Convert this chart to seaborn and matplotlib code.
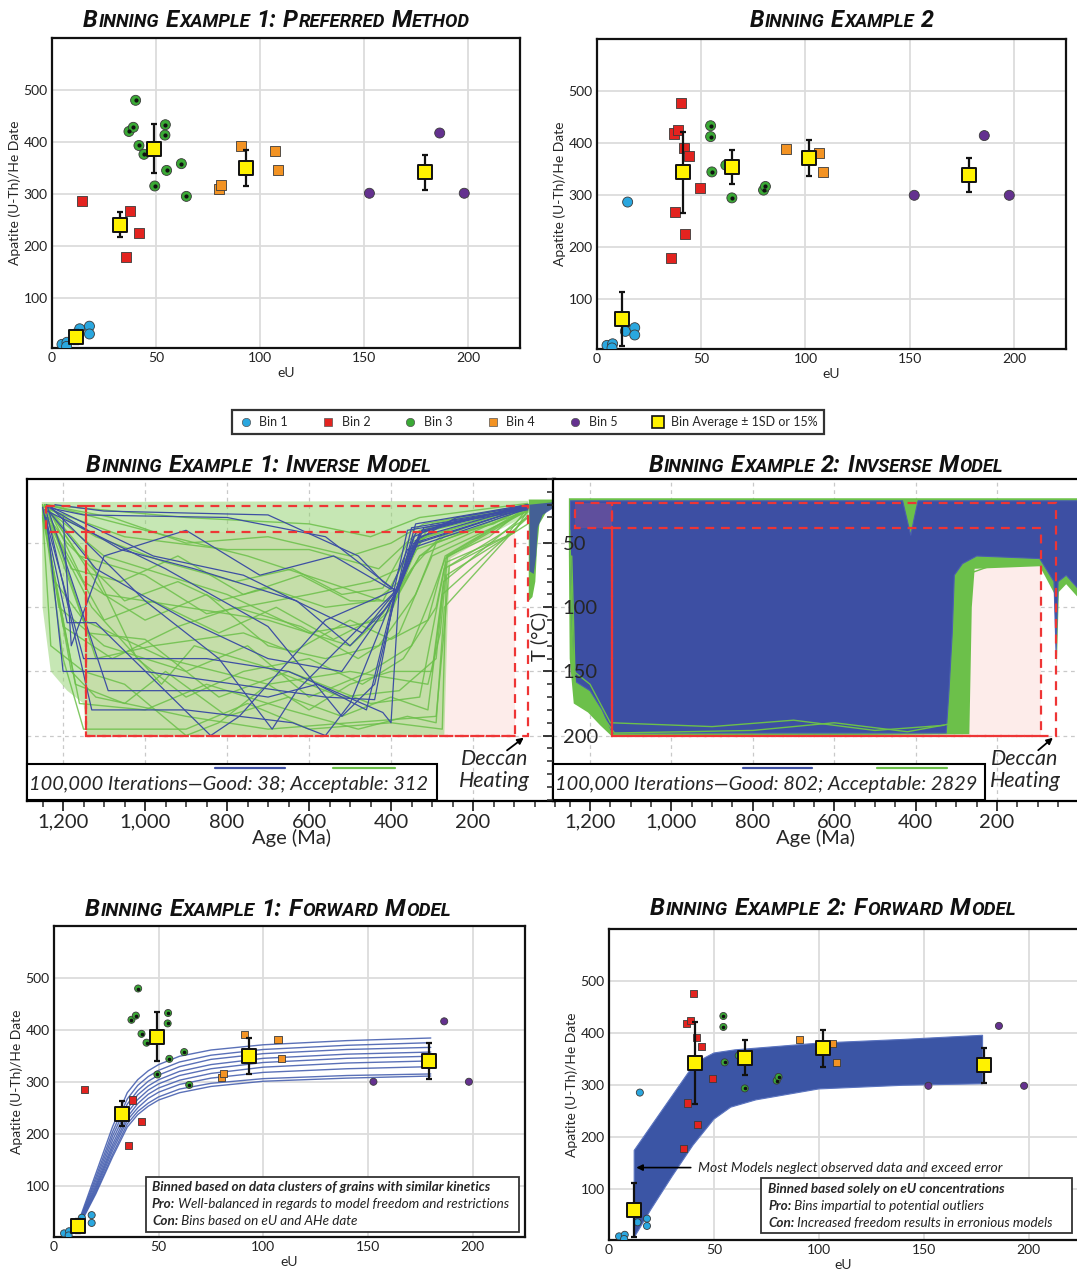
import matplotlib
matplotlib.use("Agg")
import matplotlib.pyplot as plt
import matplotlib.ticker as mticker
from matplotlib.patches import Rectangle, Polygon
from matplotlib.lines import Line2D
import numpy as np
import pandas as pd
import seaborn as sns

sns.set_theme(style="white")
plt.rcParams["font.family"] = ["Lato", "DejaVu Sans"]

W, H = 1077, 1276

# ---------------- data: binning example 1 (eU, AHe date) ----------------
ex1_bin1_eu = [4.8, 7.2, 7.0, 13.3, 18.0, 18.0]
ex1_bin1_age = [10, 14, 6, 40, 45, 30]
ex1_bin2_eu = [14.6, 37.5, 42.0, 35.4]
ex1_bin2_age = [287, 266, 225, 178]
ex1_bin3_eu = [40.2, 37.0, 39.1, 54.5, 54.3, 41.8, 44.2, 62.2, 55.1, 49.4, 64.6]
ex1_bin3_age = [480, 420, 428, 433, 413, 393, 376, 358, 345, 315, 295]
ex1_bin4_eu = [90.9, 107.0, 108.8, 80.1, 81.1]
ex1_bin4_age = [392, 383, 346, 310, 316]
ex1_bin5_eu = [152.6, 186.4, 198.2]
ex1_bin5_age = [301, 417, 301]
ex1_avg_eu = [11.5, 32.5, 49.2, 93.1, 179.2]
ex1_avg_age = [24, 240, 387, 350, 341]
ex1_avg_err = [14, 24, 47, 35, 34]

# ---------------- data: binning example 2 ----------------
ex2_bin1_eu = [4.8, 7.5, 7.2, 14.7, 13.6, 18.1, 18.1]
ex2_bin1_age = [10, 13, 5, 286, 37, 44, 30]
ex2_bin2_eu = [40.3, 37.1, 39.0, 41.9, 44.2, 49.5, 37.5, 42.0, 35.5]
ex2_bin2_age = [477, 418, 425, 391, 375, 313, 266, 225, 178]
ex2_bin3_eu = [54.5, 54.5, 55.1, 61.8, 64.7, 79.9, 80.8]
ex2_bin3_age = [433, 412, 344, 357, 294, 309, 316]
ex2_bin4_eu = [90.6, 106.7, 108.6]
ex2_bin4_age = [388, 381, 344]
ex2_bin5_eu = [152.2, 185.8, 197.8]
ex2_bin5_age = [299, 414, 299]
ex2_avg_eu = [11.8, 41.1, 64.6, 101.9, 178.6]
ex2_avg_age = [61, 343, 353, 371, 338]
ex2_avg_err = [52, 78, 33, 35, 33]

bin_names = ["Bin 1", "Bin 2", "Bin 3", "Bin 4", "Bin 5"]
bin_colors = ["#2aa7df", "#e3231f", "#3aa935", "#f39323", "#64318f"]
bin_markers = ["o", "s", "o", "s", "o"]

# ---------------- inverse model ex 1: time-temperature paths (age Ma, T degC) ----------------
ex1_good_paths = [
    [(1240, 22), (1150, 28), (800, 30), (560, 45), (385, 88), (345, 45), (250, 32), (66, 22)],
    [(1235, 25), (1120, 70), (900, 110), (700, 140), (520, 150), (390, 90), (340, 48), (240, 30), (66, 21)],
    [(1240, 30), (1200, 150), (1000, 150), (780, 160), (560, 170), (440, 172), (392, 92), (335, 50), (66, 22)],
    [(1230, 22), (1000, 95), (820, 140), (690, 195), (630, 165), (385, 86), (330, 42), (66, 20)],
    [(1245, 24), (950, 70), (700, 115), (520, 185), (440, 160), (392, 95), (350, 38), (66, 23)],
    [(1250, 22), (1190, 112), (1120, 112), (840, 200), (770, 185), (560, 110), (388, 86), (325, 40), (66, 21)],
    [(1220, 20), (1100, 25), (700, 28), (480, 60), (420, 80), (385, 88), (340, 35), (66, 20)],
    [(1240, 26), (1130, 180), (900, 180), (640, 190), (560, 200), (500, 175), (390, 88), (345, 50), (66, 22)],
    [(1235, 21), (980, 60), (760, 75), (600, 100), (470, 120), (395, 90), (360, 40), (66, 24)],
    [(1245, 28), (1150, 140), (850, 140), (650, 150), (420, 182), (400, 190), (380, 85), (330, 45), (66, 21)],
    [(1230, 23), (1060, 55), (880, 70), (630, 95), (500, 130), (410, 100), (385, 88), (320, 38), (66, 22)],
    [(1240, 20), (1090, 165), (800, 165), (700, 170), (580, 160), (460, 180), (395, 95), (340, 42), (66, 20)],
    [(1200, 30), (1180, 130), (1100, 60), (900, 40), (720, 75), (540, 60), (400, 86), (360, 55), (66, 23)],
]
ex1_ok_paths = [
    [(1250, 20), (1220, 80), (1150, 110), (950, 140), (700, 160), (500, 150), (310, 160), (280, 120), (262, 60), (160, 45), (66, 20)],
    [(1245, 22), (1100, 60), (800, 90), (600, 120), (420, 110), (330, 60), (270, 45), (150, 35), (66, 21)],
    [(1250, 25), (1180, 150), (1120, 170), (900, 185), (700, 195), (500, 190), (290, 185), (268, 110), (258, 68), (120, 45), (66, 22)],
    [(1240, 20), (1000, 40), (750, 60), (560, 80), (420, 95), (360, 60), (300, 40), (66, 22)],
    [(1250, 21), (1140, 120), (1000, 125), (820, 170), (650, 150), (450, 175), (330, 170), (300, 120), (270, 70), (66, 30)],
    [(1235, 24), (1100, 90), (900, 100), (700, 110), (500, 130), (395, 100), (340, 55), (66, 25)],
    [(1250, 20), (1200, 140), (1150, 195), (900, 195), (750, 175), (600, 195), (400, 190), (275, 195), (265, 75), (66, 35)],
    [(1240, 23), (1050, 45), (800, 55), (600, 55), (430, 70), (330, 40), (66, 20)],
    [(1248, 26), (1130, 100), (960, 160), (880, 130), (720, 145), (520, 170), (380, 165), (290, 140), (266, 65), (100, 42), (66, 24)],
    [(1245, 20), (1160, 60), (1000, 75), (850, 105), (600, 90), (450, 80), (380, 70), (300, 35), (66, 20)],
    [(1250, 30), (1160, 175), (1000, 180), (850, 160), (650, 180), (480, 195), (360, 185), (290, 190), (270, 100), (66, 28)],
    [(1240, 22), (1120, 140), (980, 130), (760, 120), (640, 135), (500, 110), (400, 125), (310, 110), (268, 60), (66, 22)],
    [(1250, 24), (1190, 50), (1050, 95), (920, 80), (820, 95), (700, 85), (560, 100), (440, 95), (380, 80), (320, 45), (66, 21)],
    [(1245, 20), (900, 30), (600, 35), (450, 45), (330, 30), (66, 19)],
    [(1250, 22), (1210, 100), (1100, 130), (900, 150), (750, 130), (600, 170), (450, 150), (350, 130), (300, 90), (268, 62), (66, 24)],
    [(1245, 21), (1120, 45), (950, 65), (780, 80), (640, 70), (520, 90), (420, 85), (360, 50), (66, 21)],
    [(1250, 26), (1170, 160), (1050, 175), (950, 150), (800, 185), (650, 170), (520, 185), (400, 170), (310, 180), (275, 90), (66, 30)],
    [(1240, 20), (1150, 80), (1000, 110), (850, 90), (700, 130), (560, 140), (430, 130), (340, 90), (290, 50), (66, 22)],
    [(1250, 23), (1200, 115), (1080, 140), (920, 115), (780, 100), (620, 115), (480, 140), (380, 120), (300, 60), (66, 25)],
    [(1245, 20), (1080, 30), (900, 50), (700, 45), (500, 60), (400, 50), (320, 35), (66, 20)],
    [(1250, 28), (1230, 130), (1150, 150), (1050, 160), (900, 200), (820, 190), (700, 160), (600, 180), (500, 160), (400, 150), (300, 150), (272, 80), (66, 26)],
    [(1240, 22), (1140, 60), (1020, 140), (900, 170), (760, 150), (600, 140), (470, 160), (370, 140), (290, 100), (264, 60), (66, 23)],
    [(1250, 24), (1100, 110), (980, 95), (820, 120), (680, 100), (540, 125), (420, 105), (350, 70), (280, 45), (66, 21)],
    [(1245, 20), (1180, 70), (1060, 80), (920, 60), (760, 90), (620, 75), (500, 95), (390, 95), (330, 60), (66, 22)],
]
ex1_ok_envelope = [(1252, 18), (66, 17), (66, 28), (150, 42), (255, 62), (262, 110), (270, 200),
                   (1142, 200), (1150, 175), (1190, 165), (1230, 150), (1250, 100)]
ex1_heat_ok = [(64, 16), (64, 95), (55, 92), (48, 80), (44, 55), (38, 35), (20, 25), (0, 22), (0, 16)]
ex1_heat_good = [(62, 20), (62, 72), (52, 74), (46, 60), (42, 38), (30, 28), (0, 22), (0, 18)]

# ---------------- inverse model ex 2: envelopes of the dense path clouds ----------------
ex2_good_envelope = [(1248, 17), (432, 17), (412, 44), (403, 30), (394, 17), (2, 17), (2, 85), (30, 75),
                     (50, 80), (55, 135), (60, 80), (95, 62), (250, 60), (285, 66), (305, 75), (310, 120),
                     (318, 165), (325, 198), (1145, 198), (1170, 180), (1200, 165), (1235, 158),
                     (1243, 120), (1248, 60)]
ex2_ok_envelope = [(1252, 15), (2, 15), (2, 92), (30, 82), (48, 88), (53, 145), (58, 90), (95, 68),
                   (255, 70), (262, 100), (265, 150), (268, 199), (1145, 201), (1175, 192), (1205, 182),
                   (1240, 175), (1250, 140), (1252, 60)]
ex2_ok_paths = [
    [(1250, 40), (1240, 150), (1200, 160), (1150, 190), (900, 193), (700, 188), (500, 196), (330, 192)],
    [(1245, 60), (1235, 175), (1180, 180), (1140, 198), (800, 196), (600, 190), (420, 197), (300, 190), (270, 120)],
    [(310, 190), (290, 120), (280, 75), (200, 66), (100, 63)],
]

# ---------------- forward model ex 1: model curves (eU, date) ----------------
fwd1_eu = [12, 20, 28, 35, 40, 45, 50, 60, 75, 100, 140, 180]
fwd1_curves = [
    [35, 125, 215, 280, 305, 322, 334, 350, 362, 372, 380, 385],
    [32, 118, 205, 268, 294, 311, 323, 339, 352, 363, 371, 376],
    [31, 112, 197, 258, 284, 302, 314, 330, 344, 355, 363, 367],
    [30, 106, 189, 249, 276, 293, 305, 321, 334, 346, 354, 358],
    [28, 101, 181, 241, 267, 285, 297, 313, 326, 338, 346, 350],
    [27, 97, 175, 233, 259, 277, 289, 304, 317, 329, 337, 341],
    [26, 93, 169, 227, 251, 269, 281, 296, 308, 319, 326, 330],
    [25, 89, 162, 220, 244, 260, 272, 287, 298, 307, 313, 316],
    [24, 86, 157, 214, 238, 254, 266, 280, 292, 302, 308, 312],
]
# ---------------- forward model ex 2: envelope of the model cloud ----------------
fwd2_upper_eu = [12, 41, 50, 60, 100, 140, 178]
fwd2_upper = [175, 343, 362, 368, 381, 388, 396]
fwd2_lower_eu = [178, 140, 100, 70, 58, 50, 40, 30, 20, 12]
fwd2_lower = [303, 300, 293, 272, 258, 235, 185, 125, 62, 8]

# ---------------- helpers ----------------
fig = plt.figure(figsize=(W / 100, H / 100), dpi=100)
fig.patch.set_facecolor("white")


def axes_px(x0, y0, x1, y1):
    return fig.add_axes([x0 / W, 1 - y1 / H, (x1 - x0) / W, (y1 - y0) / H])


def bins_frame(ex):
    rows = []
    for i in range(5):
        eu = globals()[f"ex{ex}_bin{i + 1}_eu"]
        age = globals()[f"ex{ex}_bin{i + 1}_age"]
        rows += [(e, a, bin_names[i]) for e, a in zip(eu, age)]
    return pd.DataFrame(rows, columns=["eU", "date", "bin"])


def scatter_panel(ax, ex, small=False):
    df = bins_frame(ex)
    s = 26 if small else 52
    sns.scatterplot(data=df, x="eU", y="date", hue="bin", style="bin",
                    palette=dict(zip(bin_names, bin_colors)),
                    markers=dict(zip(bin_names, bin_markers)),
                    s=s, edgecolor="#3a3a3a", linewidth=0.6, ax=ax, legend=False, zorder=3)
    b3 = df[df["bin"] == "Bin 3"]
    ax.scatter(b3["eU"], b3["date"], s=2.5 if small else 4, color="#111111", zorder=3.5)
    a_eu = globals()[f"ex{ex}_avg_eu"]
    a_age = globals()[f"ex{ex}_avg_age"]
    a_err = globals()[f"ex{ex}_avg_err"]
    ax.errorbar(a_eu, a_age, yerr=a_err, fmt="none", ecolor="#111111", elinewidth=1.6,
                capsize=2.2, capthick=1.6, zorder=4)
    sns.scatterplot(x=a_eu, y=a_age, marker="s", color="#fff200", s=100 if small else 115,
                    edgecolor="#111111", linewidth=1.4, ax=ax, zorder=5, legend=False)
    ax.set_ylim(3, 600)
    ax.set_xticks([0, 50, 100, 150, 200])
    ax.set_yticks([100, 200, 300, 400, 500])
    ax.grid(True, color="#dcdcdc", lw=1.3)
    ax.set_axisbelow(True)
    for sp in ax.spines.values():
        sp.set_color("#111111")
        sp.set_linewidth(1.6)
    ax.tick_params(length=0, labelsize=10, pad=3, colors="#222222")
    ax.set_xlabel("eU", fontsize=10, labelpad=2)
    ax.set_ylabel("Apatite (U-Th)/He Date", fontsize=10, labelpad=2)


def paths_frame(paths):
    rows = []
    for k, p in enumerate(paths):
        for j, (a, t) in enumerate(p):
            rows.append((k, j, a, t))
    return pd.DataFrame(rows, columns=["path", "step", "age", "T"])


def inverse_frame(ax, xlim):
    ax.set_xlim(*xlim)
    ax.set_ylim(251, 0)
    ax.set_facecolor("white")
    for a in [1200, 1000, 800, 600, 400, 200]:
        ax.axvline(a, color="#c9c9c9", lw=0.9, ls=(0, (3, 3)), zorder=0.5)
    for t in [50, 100, 150, 200]:
        ax.axhline(t, color="#c9c9c9", lw=0.9, ls=(0, (3, 3)), zorder=0.5)
    ax.xaxis.set_major_locator(mticker.FixedLocator([1200, 1000, 800, 600, 400, 200]))
    ax.xaxis.set_major_formatter(mticker.FuncFormatter(lambda v, p: f"{int(v):,}"))
    ax.xaxis.set_minor_locator(mticker.MultipleLocator(50))
    ax.tick_params(axis="x", which="major", direction="out", length=7, width=1.3,
                   labelsize=14.5, pad=2, bottom=True)
    ax.tick_params(axis="x", which="minor", direction="out", length=4, width=1.1, bottom=True)
    for sp in ax.spines.values():
        sp.set_color("black")
        sp.set_linewidth(1.6)
    ax.set_xlabel("Age (Ma)", fontsize=14.5, labelpad=-1)


def constraint_boxes(ax, a_left, a_mid, a_in, a_out, t_top, t_mid):
    ax.add_patch(Rectangle((a_mid, t_mid), a_in - a_mid, 200 - t_mid, facecolor="#fdecea",
                           edgecolor="none", zorder=0.8))
    kw = dict(fill=False, edgecolor="#ee3535", lw=1.6, ls=(0, (4, 3)), zorder=6)
    ax.add_patch(Rectangle((a_mid, t_top), a_out - a_mid, 200 - t_top, **kw))
    ax.add_patch(Rectangle((a_left, t_top), a_mid - a_left, t_mid - t_top, **kw))
    ax.add_patch(Rectangle((a_mid, t_mid), a_in - a_mid, 200 - t_mid, **kw))


def iteration_box(ax, x1, text, blue_seg, green_seg):
    ax.add_patch(Rectangle((0, 0.003), x1, 0.112, transform=ax.transAxes, facecolor="white",
                           edgecolor="black", lw=1.5, zorder=7, clip_on=False))
    ax.text(0.004, 0.035, text, transform=ax.transAxes, fontsize=14.4, style="italic",
            va="baseline", ha="left", zorder=8)
    ax.plot(blue_seg, [0.102, 0.102], transform=ax.transAxes, color="#3d4fa3", lw=1.6, zorder=8)
    ax.plot(green_seg, [0.102, 0.102], transform=ax.transAxes, color="#6cc04a", lw=1.6, zorder=8)


def deccan(ax, cx, tail, head):
    ax.text(cx, 0.112, "Deccan", transform=ax.transAxes, fontsize=15.5, style="italic",
            ha="center", va="baseline", zorder=8)
    ax.text(cx, 0.045, "Heating", transform=ax.transAxes, fontsize=15.5, style="italic",
            ha="center", va="baseline", zorder=8)
    ax.annotate("", xy=head, xytext=tail, xycoords="axes fraction",
                arrowprops=dict(arrowstyle="-|>", color="black", lw=1.3, mutation_scale=9), zorder=8)


def smallcaps(cx, base, text, width, big=14.0, ratio=0.78):
    r = fig.canvas.get_renderer()
    items = []
    for word in text.split(" "):
        runs = []
        for ch in word:
            isbig = not ch.islower()
            if runs and runs[-1][1] == isbig:
                runs[-1][0] += ch.upper()
            else:
                runs.append([ch.upper(), isbig])
        items.append(runs)

    def layout(size):
        arts, total = [], 0.0
        for wi, runs in enumerate(items):
            if wi:
                total += size * 0.25 * 100 / 72
            for s, isbig in runs:
                t = fig.text(0, 0, s, fontsize=size if isbig else size * ratio, fontweight="bold",
                             fontstyle="italic", va="baseline", ha="left", color="#111111",
                             family=["Roboto", "Lato", "DejaVu Sans"])
                arts.append((t, total))
                total += t.get_window_extent(r).width + 0.6
        return arts, total

    arts, total = layout(big)
    for t, _ in arts:
        t.remove()
    arts, total = layout(big * width / total)
    x0 = cx - total / 2
    for t, off in arts:
        t.set_position(((x0 + off) / W, 1 - base / H))


# ---------------- top scatter panels ----------------
ax1 = axes_px(52, 38, 520, 348)
scatter_panel(ax1, 1)
ax1.set_xlim(0, 225)
ax2 = axes_px(597, 39, 1066, 349)
scatter_panel(ax2, 2)
ax2.set_xlim(0, 225)

handles = [Line2D([], [], marker=m, ls="none", markerfacecolor=c, markeredgecolor="#555555",
                  markeredgewidth=0.5, markersize=6, label=n)
           for n, c, m in zip(bin_names, bin_colors, bin_markers)]
handles.append(Line2D([], [], marker="s", ls="none", markerfacecolor="#fff200",
                      markeredgecolor="#111111", markeredgewidth=1.2, markersize=8,
                      label="Bin Average ± 1SD or 15%"))
leg = fig.legend(handles=handles, loc="center", bbox_to_anchor=(528 / W, 1 - 422 / H), ncol=6,
                 fontsize=9, frameon=True, fancybox=False, edgecolor="black", columnspacing=2.6,
                 handletextpad=0.5, borderpad=0.45, handlelength=1.2)
leg.get_frame().set_linewidth(1.6)

# ---------------- middle inverse model panels ----------------
ax3 = axes_px(27, 479, 555, 801)
inverse_frame(ax3, (1288, 0))
ax3.set_yticks([])
constraint_boxes(ax3, 1241, 1144, 98, 66, 21, 41)
ax3.add_patch(Polygon(ex1_ok_envelope, closed=True, facecolor="#8fd16a", alpha=0.5,
                      edgecolor="none", zorder=1.5))
ax3.add_patch(Polygon(ex1_heat_ok, closed=True, facecolor="#6cc04a", edgecolor="none", zorder=2))
ax3.add_patch(Polygon(ex1_heat_good, closed=True, facecolor="#3d4fa3", alpha=0.85,
                      edgecolor="none", zorder=2.1))
sns.lineplot(data=paths_frame(ex1_ok_paths), x="age", y="T", units="path", estimator=None,
             sort=False, color="#6cc04a", lw=1.0, alpha=0.85, ax=ax3, zorder=2)
sns.lineplot(data=paths_frame(ex1_good_paths), x="age", y="T", units="path", estimator=None,
             sort=False, color="#3d4fa3", lw=0.9, ax=ax3, zorder=3)
ax3.set_xlabel("Age (Ma)", fontsize=14.5, labelpad=-1)
ax3.set_ylabel("")
iteration_box(ax3, 0.777, "100,000 Iterations\u2014Good: 38; Acceptable: 312",
              [0.356, 0.489], [0.580, 0.697])
deccan(ax3, 0.886, (0.905, 0.152), (0.945, 0.202))

ax4 = axes_px(553, 479, 1077, 801)
inverse_frame(ax4, (1291, 3.5))
ax4.spines["right"].set_visible(False)
constraint_boxes(ax4, 1236, 1145, 91, 54, 19, 38)
ax4.add_patch(Polygon(ex2_ok_envelope, closed=True, facecolor="#6cc04a", edgecolor="none", zorder=1.5))
sns.lineplot(data=paths_frame(ex2_ok_paths), x="age", y="T", units="path", estimator=None,
             sort=False, color="#6cc04a", lw=1.0, ax=ax4, zorder=2.2)
ax4.add_patch(Polygon(ex2_good_envelope, closed=True, facecolor="#3d4fa3", edgecolor="#4a5db0",
                      lw=0.8, zorder=2))
ax4.add_patch(Rectangle((1236, 19), 1145 - 1236, 19, facecolor="#5f4f9d", edgecolor="none", zorder=2.5))
ax4.set_yticks([50, 100, 150, 200])
ax4.yaxis.set_minor_locator(mticker.MultipleLocator(10))
ax4.tick_params(axis="y", which="major", direction="out", length=7, width=1.3, labelsize=14.5,
                pad=-14, left=True)
ax4.tick_params(axis="y", which="minor", direction="out", length=4, width=1.1, left=True)
plt.setp(ax4.get_yticklabels(), ha="left")
ax4.yaxis.set_zorder(10)
ax4.set_ylabel("T (°C)", fontsize=14.5)
ax4.yaxis.set_label_coords(-0.01, 0.51)
ax4.set_xlabel("Age (Ma)", fontsize=14.5, labelpad=-1)
iteration_box(ax4, 0.824, "100,000 Iterations\u2014Good: 802; Acceptable: 2829",
              [0.363, 0.494], [0.618, 0.752])
deccan(ax4, 0.901, (0.922, 0.152), (0.958, 0.202))

# ---------------- bottom forward model panels ----------------
BOX_FS = 9.7
ax5 = axes_px(54, 926, 525, 1237)
fwd1 = pd.DataFrame([(k, e, v) for k, c in enumerate(fwd1_curves) for e, v in zip(fwd1_eu, c)],
                    columns=["curve", "eU", "date"])
sns.lineplot(data=fwd1, x="eU", y="date", units="curve", estimator=None, color="#4861b0",
             lw=1.0, alpha=0.9, ax=ax5, zorder=2)
scatter_panel(ax5, 1, small=True)
ax5.set_xlim(0, 225)
ax5.add_patch(Rectangle((0.195, 0.016), 0.792, 0.177, transform=ax5.transAxes, facecolor="white",
                        edgecolor="#333333", lw=1.3, zorder=6))
ax5.text(0.208, 0.148, "Binned based on data clusters of grains with similar kinetics",
         transform=ax5.transAxes, fontsize=BOX_FS, fontweight="bold", style="italic", zorder=7)
t = ax5.text(0.208, 0.093, "Pro:", transform=ax5.transAxes, fontsize=BOX_FS, fontweight="bold",
             style="italic", zorder=7)
ax5.annotate(" Well-balanced in regards to model freedom and restrictions", xy=(1, 0), xycoords=t,
             va="bottom", fontsize=BOX_FS, style="italic", color="#222222", zorder=7)
t = ax5.text(0.208, 0.039, "Con:", transform=ax5.transAxes, fontsize=BOX_FS, fontweight="bold",
             style="italic", zorder=7)
ax5.annotate(" Bins based on eU and AHe date", xy=(1, 0), xycoords=t, va="bottom", fontsize=BOX_FS,
             style="italic", color="#222222", zorder=7)

ax6 = axes_px(609, 929, 1077, 1240)
ax6.fill(fwd2_upper_eu + fwd2_lower_eu, fwd2_upper + fwd2_lower, facecolor="#3b55a5",
         edgecolor="#5b74bf", lw=0.8, zorder=2)
scatter_panel(ax6, 2, small=True)
ax6.set_xlim(0, 223)
ax6.spines["right"].set_visible(False)
ax6.annotate("Most Models neglect observed data and exceed error", xy=(13, 142), xytext=(42.5, 142),
             va="center", fontsize=10, style="italic", color="#222222",
             arrowprops=dict(arrowstyle="-|>", color="black", lw=1.2, mutation_scale=9,
                             shrinkB=0, shrinkA=3), zorder=7)
ax6.add_patch(Rectangle((0.325, 0.0225), 0.664, 0.1765, transform=ax6.transAxes, facecolor="white",
                        edgecolor="#333333", lw=1.3, zorder=6))
ax6.text(0.340, 0.151, "Binned based solely on eU concentrations", transform=ax6.transAxes,
         fontsize=BOX_FS, fontweight="bold", style="italic", zorder=7)
t = ax6.text(0.340, 0.096, "Pro:", transform=ax6.transAxes, fontsize=BOX_FS, fontweight="bold",
             style="italic", zorder=7)
ax6.annotate(" Bins impartial to potential outliers", xy=(1, 0), xycoords=t, va="bottom",
             fontsize=BOX_FS, style="italic", color="#222222", zorder=7)
t = ax6.text(0.340, 0.042, "Con:", transform=ax6.transAxes, fontsize=BOX_FS, fontweight="bold",
             style="italic", zorder=7)
ax6.annotate(" Increased freedom results in erronious models", xy=(1, 0), xycoords=t, va="bottom",
             fontsize=BOX_FS, style="italic", color="#222222", zorder=7)

# ---------------- small-caps titles ----------------
smallcaps(277, 27, "Binning Example 1: Preferred Method", 389)
smallcaps(842, 27, "Binning Example 2", 185)
smallcaps(259, 472, "Binning Example 1: Inverse Model", 347)
smallcaps(826, 472, "Binning Example 2: Invserse Model", 356)
smallcaps(268, 916, "Binning Example 1: Forward Model", 367)
smallcaps(833, 915, "Binning Example 2: Forward Model", 367)

fig.savefig("out.png", dpi=100)
